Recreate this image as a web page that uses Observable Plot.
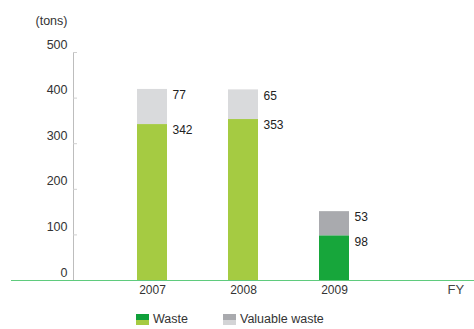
<!DOCTYPE html>
<html><head><meta charset="utf-8">
<script src="https://cdn.jsdelivr.net/npm/d3@7"></script>
<script src="https://cdn.jsdelivr.net/npm/@observablehq/plot@0.6"></script>
<style>
body{margin:0;background:#fff;font-family:"Liberation Sans",Arial,sans-serif;}
#wrap{position:relative;width:474px;height:329px;}
#legend{position:absolute;left:136px;top:312px;font-size:12.5px;color:#333;display:flex;align-items:center;}
.sw{display:inline-block;width:13px;height:11px;margin-right:4px;}
.item{display:flex;align-items:center;margin-right:35px;}
</style>
</head><body><div id="wrap"><div id="chart"></div><div id="legend"></div></div>
<script>
const years = ["2007", "2008", "2009"];
const waste = [342, 353, 98];
const valuable = [77, 65, 53];
const yTicks = [0, 100, 200, 300, 400, 500];
const unitLabel = "(tons)";
const fyLabel = "FY";
const seriesNames = ["Waste", "Valuable waste"];

const rows = [];
years.forEach((y, i) => {
  const cur = y === "2009";
  rows.push({year: y, series: "Waste", y1: 0, y2: waste[i], value: waste[i], fill: cur ? "#17a63b" : "#a5cb42", bold: cur});
  rows.push({year: y, series: "Valuable waste", y1: waste[i], y2: waste[i] + valuable[i], value: valuable[i], fill: cur ? "#a9aaae" : "#d9dadc", bold: cur});
});

const plot = Plot.plot({
  width: 474,
  height: 305,
  marginTop: 52,
  marginBottom: 25,
  marginLeft: 73,
  marginRight: 61,
  style: {fontFamily: "'Liberation Sans', Arial, sans-serif", color: "#333", background: "transparent"},
  x: {domain: years, paddingInner: 0.67, paddingOuter: 0.703, axis: null},
  y: {domain: [0, 500], axis: null},
  marks: [
    Plot.frame({anchor: "left", stroke: "#bdbdbd"}),
    Plot.axisY({ticks: yTicks, tickSize: 0, tickPadding: 6, dy: -8, fontSize: 12.5, tickFormat: d => String(d), label: null}),
    Plot.axisY({ticks: yTicks, tickSize: -4, text: null, stroke: "#cfcfcf", label: null}),
    Plot.rectY(rows, {x: "year", y1: "y1", y2: "y2", fill: "fill"}),
    Plot.ruleY([0], {stroke: "#5fcb7d", strokeWidth: 1.2, insetLeft: -62, insetRight: -61}),
    Plot.text(rows, {x: "year", y: "y2", text: d => String(d.value), textAnchor: "start", dx: 20, dy: 6, fontSize: 12, fontWeight: d => d.bold ? "bold" : "normal", fill: "#222"}),
    Plot.text(years, {x: d => d, frameAnchor: "bottom", dy: 13, fontSize: 12, fontWeight: d => d === "2009" ? "bold" : "normal", fill: "#333"}),
    Plot.text([fyLabel], {frameAnchor: "bottom-right", textAnchor: "start", dx: 34, dy: 13, fontSize: 13, fill: "#444"}),
    Plot.text([unitLabel], {frameAnchor: "top-left", textAnchor: "start", dx: -38, dy: -36, fontSize: 12.5, fill: "#333"})
  ]
});
document.getElementById("chart").appendChild(plot);

const grads = ["linear-gradient(#0fa03a 0 55%, #a5cb42 55% 100%)", "linear-gradient(#a9aaae 0 55%, #d3d4d6 55% 100%)"];
const leg = document.getElementById("legend");
seriesNames.forEach((n, i) => {
  const it = document.createElement("span");
  it.className = "item";
  it.innerHTML = `<span class="sw" style="background:${grads[i]}"></span>${n}`;
  leg.appendChild(it);
});
</script></body></html>
